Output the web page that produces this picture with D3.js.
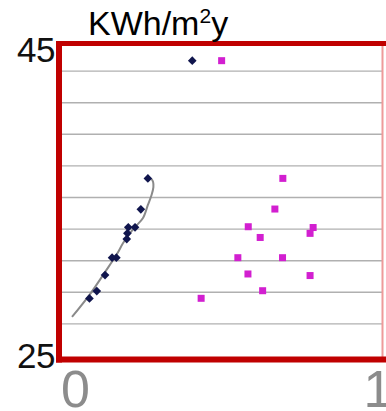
<!DOCTYPE html>
<html>
<head>
<meta charset="utf-8">
<script src="https://cdn.jsdelivr.net/npm/d3@7"></script>
<style>
  html, body { margin: 0; padding: 0; background: #ffffff; overflow: hidden; }
  svg { display: block; font-family: "Liberation Sans", Arial, sans-serif; }
</style>
</head>
<body>
<svg id="chart" width="386" height="411"></svg>
<script>
// Energy use, series A (dark diamonds)
const seriesAX = [0.393, 0.248, 0.225, 0.206, 0.184, 0.181, 0.179, 0.145, 0.131, 0.108, 0.081, 0.057];
const seriesAY = [43.66, 36.21, 34.25, 33.11, 33.11, 32.73, 32.37, 31.19, 31.19, 30.09, 29.08, 28.61];

// Energy use, series B (magenta squares)
const seriesBX = [0.489, 0.689, 0.663, 0.576, 0.788, 0.778, 0.615, 0.542, 0.688, 0.575, 0.778, 0.623, 0.422];
const seriesBY = [43.66, 36.21, 34.27, 33.15, 33.10, 32.73, 32.47, 31.19, 31.19, 30.16, 30.06, 29.10, 28.62];

// Trend curve through series A
const trendX = [0.000, 0.059, 0.108, 0.147, 0.167, 0.190, 0.206, 0.232, 0.248, 0.260, 0.266, 0.265, 0.260];
const trendY = [27.44, 28.89, 30.28, 31.42, 32.12, 32.75, 33.13, 33.70, 34.53, 35.16, 35.66, 35.98, 36.17];

// Axis ticks and labels
const yGridTicks = [27, 29, 31, 33, 35, 37, 39, 41, 43];
const yLabelTicks = [25, 45];
const xLabelTicks = [0, 1];
const unitMain = "KWh/m";
const unitSup = "2";
const unitTail = "y";

const svg = d3.select("#chart");

const x = d3.scaleLinear().domain([0, 1]).range([72, 378]);
const y = d3.scaleLinear().domain([25, 45]).range([355.5, 39.5]);

// horizontal gridlines
svg.append("g").selectAll("line").data(yGridTicks).join("line")
  .attr("x1", 62).attr("x2", 382)
  .attr("y1", d => y(d)).attr("y2", d => y(d))
  .attr("stroke", "#b0b0b0").attr("stroke-width", 1.4);

// frame
svg.append("line").attr("x1", 382.5).attr("x2", 382.5).attr("y1", 43).attr("y2", 360)
  .attr("stroke", "#ee9a9a").attr("stroke-width", 2);
svg.append("line").attr("x1", 56).attr("x2", 386).attr("y1", 43.5).attr("y2", 43.5)
  .attr("stroke", "#c00000").attr("stroke-width", 5);
svg.append("line").attr("x1", 56).attr("x2", 386).attr("y1", 359.5).attr("y2", 359.5)
  .attr("stroke", "#c00000").attr("stroke-width", 6);
svg.append("line").attr("x1", 59).attr("x2", 59).attr("y1", 41).attr("y2", 362.5)
  .attr("stroke", "#c00000").attr("stroke-width", 6);

// trend curve
const trendPts = trendX.map((v, i) => [v, trendY[i]]);
svg.append("path")
  .datum(trendPts)
  .attr("fill", "none")
  .attr("stroke", "#8a8a8a")
  .attr("stroke-width", 2)
  .attr("d", d3.line().x(d => x(d[0])).y(d => y(d[1])).curve(d3.curveCatmullRom));

// series B squares
const ptsB = seriesBX.map((v, i) => [v, seriesBY[i]]);
svg.append("g").selectAll("rect").data(ptsB).join("rect")
  .attr("x", d => x(d[0]) - 3.5).attr("y", d => y(d[1]) - 3.5)
  .attr("width", 7).attr("height", 7)
  .attr("fill", "#d21fd0");

// series A diamonds
const ptsA = seriesAX.map((v, i) => [v, seriesAY[i]]);
svg.append("g").selectAll("path").data(ptsA).join("path")
  .attr("transform", d => `translate(${x(d[0])},${y(d[1])})`)
  .attr("d", d3.symbol().type(d3.symbolDiamond2).size(48))
  .attr("fill", "#10154d");

// y labels
svg.append("g").selectAll("text").data(yLabelTicks).join("text")
  .attr("x", 55)
  .attr("y", d => y(d) + (d === 45 ? 22.5 : 12.5))
  .attr("text-anchor", "end")
  .attr("font-size", 35)
  .attr("letter-spacing", -0.5)
  .attr("fill", "#111")
  .text(d => d);

// x labels
svg.append("g").selectAll("text").data(xLabelTicks).join("text")
  .attr("x", d => x(d) + (d === 0 ? 3.5 : 0))
  .attr("y", 407)
  .attr("text-anchor", "middle")
  .attr("font-size", 52)
  .attr("fill", "#8c8c8c")
  .text(d => d);

// unit title
const t = svg.append("text").attr("x", 88).attr("y", 35).attr("font-size", 34).attr("fill", "#000");
t.append("tspan").text(unitMain);
t.append("tspan").attr("font-size", 21).attr("dy", -12).text(unitSup);
t.append("tspan").attr("dy", 12).text(unitTail);
</script>
</body>
</html>
